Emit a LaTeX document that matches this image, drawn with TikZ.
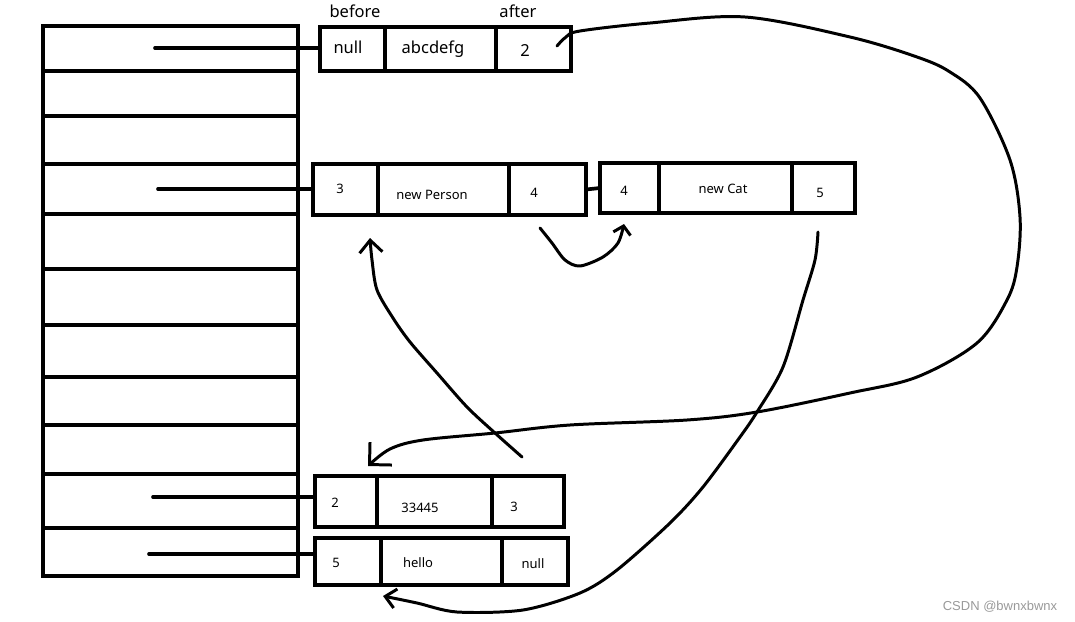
\documentclass[tikz,border=0pt]{standalone}
\usepackage{fontspec}
\setmainfont{Noto Sans}
\newfontfamily\wmfont{Liberation Sans}
\usetikzlibrary{arrows.meta}
\newcommand\cellbox[5]{\node[cell, minimum width={(#4-#2)*0.02cm}, minimum height={(#5-#3)*0.02cm}] (#1) at (#2,#3) {};}
\begin{document}
\begin{tikzpicture}[x=0.02cm, y=-0.02cm,
  cell/.style={draw, line width=2.3pt, rectangle, inner sep=0pt, outer sep=0pt, anchor=north west},
  ptr/.style={line width=2.1pt, line cap=round},
  curve/.style={line width=1.7pt, line cap=round, line join=round},
  big/.style={anchor=base, inner sep=0pt, font=\fontsize{9.4}{11}\selectfont},
  small/.style={anchor=base, inner sep=0pt, font=\fontsize{7.4}{9}\selectfont},
  wm/.style={anchor=base, inner sep=0pt, text=black!40, font=\wmfont\fontsize{7.4}{9}\selectfont}]
\useasboundingbox (0,0) rectangle (1075,622);
% stack
\cellbox{s1}{43}{26}{298}{71}
\cellbox{s2}{43}{71}{298}{116}
\cellbox{s3}{43}{116}{298}{164}
\cellbox{s4}{43}{164}{298}{214}
\cellbox{s5}{43}{214}{298}{269}
\cellbox{s6}{43}{269}{298}{325}
\cellbox{s7}{43}{325}{298}{377}
\cellbox{s8}{43}{377}{298}{425}
\cellbox{s9}{43}{425}{298}{474}
\cellbox{s10}{43}{474}{298}{528}
\cellbox{s11}{43}{528}{298}{576}
% top object
\cellbox{to1}{320}{27}{385}{71}
\cellbox{to2}{385}{27}{496}{71}
\cellbox{to3}{496}{27}{571}{71}
% Person
\cellbox{pe1}{313}{164}{378}{215}
\cellbox{pe2}{378}{164}{509}{215}
\cellbox{pe3}{509}{164}{586}{215}
% Cat
\cellbox{ca1}{600}{163}{659}{213}
\cellbox{ca2}{659}{163}{792}{213}
\cellbox{ca3}{792}{163}{855}{213}
% box A
\cellbox{a1}{315}{476}{377}{527}
\cellbox{a2}{377}{476}{492}{527}
\cellbox{a3}{492}{476}{564}{527}
% box B
\cellbox{b1}{315}{538}{381}{585}
\cellbox{b2}{381}{538}{502}{585}
\cellbox{b3}{502}{538}{568}{585}
% labels
\node[big] (lbefore) at (355,17) {before};
\node[big] (lafter) at (518,17) {after};
\node[big] (lt1) at (348,53) {null};
\node[big] (lt2) at (433,53) {abcdefg};
\node[big] (lt3) at (525,56) {2};
\node[small] (lp1) at (340,193) {3};
\node[small] (lp2) at (432,199) {new Person};
\node[small] (lp3) at (534,197) {4};
\node[small] (lc1) at (624,195) {4};
\node[small] (lc2) at (723,193) {new Cat};
\node[small] (lc3) at (820,197) {5};
\node[small] (la1) at (335,507) {2};
\node[small] (la2) at (420,512) {33445};
\node[small] (la3) at (514,511) {3};
\node[small] (lb1) at (336,567) {5};
\node[small] (lb2) at (418,567) {hello};
\node[small] (lb3) at (533,568) {null};
\node[wm] (wm) at (1000,610) {CSDN @bwnxbwnx};
% pointers
\coordinate (q1) at (155,48);
\coordinate (q2) at (158,189);
\coordinate (q3) at (153,497);
\coordinate (q4) at (149,554);
\draw[ptr] (q1) -- (q1 -| to1.west);
\draw[ptr] (q2) -- (q2 -| pe1.west);
\draw[ptr] (q3) -- (q3 -| a1.west);
\draw[ptr] (q4) -- (q4 -| b1.west);
\draw[ptr] (pe3.east) -- (ca1.west);
% curves
\coordinate (c1s) at (557,46);
\coordinate (c1e) at (368,466);
\coordinate (c2s) at (522,457);
\coordinate (c2e) at (370,238);
\coordinate (c3s) at (540,228);
\coordinate (c3e) at (624,224);
\coordinate (c4s) at (818,232);
\coordinate (c4e) at (383,596);
\draw[curve, -{Straight Barb[length=9pt,width=18pt]}] plot[smooth, tension=0.55] coordinates {(c1s) (566,37) (580,31) (650,23) (745,17) (850,37) (917,57) (950,72) (980,98) (1010,160) (1020,217) (1017,267) (1007,300) (977,343) (917,377) (850,393) (757,412) (687,420) (570,425) (495,433) (423,440) (390,449) (c1e)};
\draw[curve, -{Straight Barb[length=7pt,width=13pt]}] plot[smooth, tension=0.5] coordinates {(c2s) (495,433) (467,407) (437,373) (410,342) (393,318) (377,290) (372,260) (c2e)};
\draw[curve, -{Straight Barb[length=4.5pt,width=10pt]}] plot[smooth, tension=0.5] coordinates {(c3s) (552,243) (565,260) (580,266) (603,257) (618,243) (c3e)};
\draw[curve, -{Straight Barb[length=6pt,width=11pt]}] plot[smooth, tension=0.5] coordinates {(c4s) (815,260) (803,300) (783,367) (757,412) (740,437) (703,487) (670,523) (617,570) (580,593) (523,610) (457,612) (417,603) (c4e)};
\end{tikzpicture}
\end{document}
